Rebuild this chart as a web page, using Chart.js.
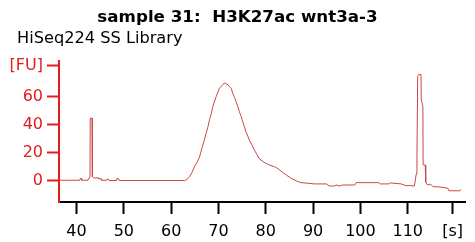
<!DOCTYPE html>
<html>
<head>
<meta charset="utf-8">
<script src="https://cdn.jsdelivr.net/npm/chart.js@4/dist/chart.umd.min.js"></script>
<style>
    html, body { margin: 0; padding: 0; background: #fff; }
    #wrap { position: relative; width: 475px; height: 242px; }
    #title { position: absolute; left: 0; width: 475px; top: 8px; text-align: center;
        font: bold 16.7px 'DejaVu Sans', sans-serif; line-height: 16.7px; white-space: pre; color: #000; }
    #subtitle { position: absolute; left: 17px; top: 30px;
        font: 16.2px 'DejaVu Sans', sans-serif; line-height: 16.2px; white-space: pre; color: #000; }
    canvas { position: absolute; left: 0; top: 0; }
</style>
</head>
<body>
<div id="wrap">
    <canvas id="traceChart" width="475" height="242"></canvas>
    <div id="title">sample 31:  H3K27ac wnt3a-3</div>
    <div id="subtitle">HiSeq224 SS Library</div>
</div>
<script>
// electropherogram trace: time [s] and fluorescence [FU]
const times = [
    36.3, 40.7, 40.8, 41.0, 41.1, 42.4, 42.6, 42.85, 42.9, 43.3, 43.35, 43.6, 44.6, 44.7,
    45.2, 45.3, 46.3, 46.4, 46.8, 46.9, 48.4, 48.5, 48.9, 49.0,
    62.8, 63.3, 63.9, 64.4, 64.9, 65.5, 66.0, 66.6, 67.0, 67.4, 67.8, 68.1, 68.5, 68.8,
    69.2, 69.5, 69.9, 70.2, 70.6, 70.9, 71.2, 71.6, 72.0, 72.4, 72.7, 73.0, 73.4, 73.7,
    74.1, 74.4, 74.8, 75.1, 75.5, 75.8, 76.2, 76.5, 77.1, 77.6, 78.1, 78.6, 79.3, 80.0,
    80.9, 81.8, 82.3, 82.9, 83.6, 84.3, 85.0, 85.7, 86.5, 87.4, 88.8, 90.2, 92.8, 93.4,
    94.6, 94.8, 95.6, 96.2, 98.8, 99.1, 103.9, 104.2, 106.0, 106.3, 108.6, 109.6, 110.4,
    111.4, 111.8, 111.95, 112.1, 112.3, 112.8, 112.85, 113.2, 113.25, 113.7, 113.8, 114.2,
    114.8, 115.3, 117.0, 118.5, 118.7, 121.0, 121.3
];
const fu = [
    0.5, 0.5, 1.8, 1.8, 0.5, 0.5, 2.0, 2.5, 44.8, 44.8, 3.0, 2.2, 2.2, 1.5,
    1.5, 0.5, 0.5, 1.2, 1.2, 0.3, 0.3, 1.6, 1.6, 0.3,
    0.3, 1.0, 3.0, 6.0, 10.0, 13.5, 17.0, 24.5, 29.0, 34.0, 39.0, 43.6, 48.0, 53.0,
    57.0, 60.0, 63.5, 66.0, 67.5, 68.6, 69.8, 69.2, 68.6, 67.0, 66.0, 62.6, 59.5, 56.7,
    53.0, 49.5, 46.0, 42.4, 38.5, 35.0, 32.0, 29.3, 25.5, 22.0, 19.0, 16.0, 14.0, 12.6,
    11.2, 10.2, 9.4, 7.9, 6.0, 4.3, 2.7, 1.2, 0.0, -1.2, -1.6, -2.1, -2.1, -3.6,
    -3.6, -2.8, -3.6, -2.9, -2.9, -1.2, -1.2, -2.1, -2.1, -1.4, -2.1, -3.3, -3.3,
    -3.6, 5.0, 17.4, 74.5, 75.8, 75.8, 58.0, 53.0, 11.4, 11.4, -1.0, -2.9,
    -2.2, -4.0, -4.4, -5.2, -7.0, -7.0, -6.0
];

// axis ticks; the last tick of each axis carries the unit
const xTickValues = [40, 50, 60, 70, 80, 90, 100, 110, 119.5];
const xTickLabels = ['40', '50', '60', '70', '80', '90', '100', '110', '[s]'];
const yTickValues = [0, 20, 40, 60, 82];
const yTickLabels = ['0', '20', '40', '60', '[FU]'];

const axisRed = '#e21d1d';
const traceRed = '#c94848';
const tickFont = { family: "'DejaVu Sans', sans-serif", size: 16 };

new Chart(document.getElementById('traceChart'), {
    type: 'line',
    data: {
        datasets: [{
            data: times.map((t, i) => ({ x: t, y: fu[i] })),
            borderColor: traceRed,
            borderWidth: 1,
            pointRadius: 0,
            tension: 0,
            fill: false
        }]
    },
    options: {
        responsive: false,
        animation: false,
        layout: { padding: { top: 61, right: 10, left: 0, bottom: 0 } },
        plugins: { legend: { display: false }, tooltip: { enabled: false } },
        scales: {
            x: {
                type: 'linear',
                min: 36.3,
                max: 122.1,
                afterBuildTicks: (s) => { s.ticks = xTickValues.map(v => ({ value: v })); },
                afterFit: (s) => { s.height = 40; },
                ticks: {
                    color: '#000',
                    font: tickFont,
                    padding: 8,
                    maxRotation: 0,
                    autoSkip: false,
                    callback: (v, i) => xTickLabels[i]
                },
                grid: { drawOnChartArea: false, drawTicks: true, tickLength: 12, tickWidth: 2, tickColor: '#000' },
                border: { display: true, color: '#000', width: 2 }
            },
            y: {
                type: 'linear',
                min: -15,
                max: 85.5,
                afterBuildTicks: (s) => { s.ticks = yTickValues.map(v => ({ value: v })); },
                afterFit: (s) => { s.width = 59; },
                ticks: {
                    color: axisRed,
                    font: tickFont,
                    padding: 4,
                    autoSkip: false,
                    callback: (v, i) => yTickLabels[i]
                },
                grid: { drawOnChartArea: false, drawTicks: true, tickLength: 12, tickWidth: 2, tickColor: axisRed },
                border: { display: true, color: axisRed, width: 2 }
            }
        }
    }
});
</script>
</body>
</html>
